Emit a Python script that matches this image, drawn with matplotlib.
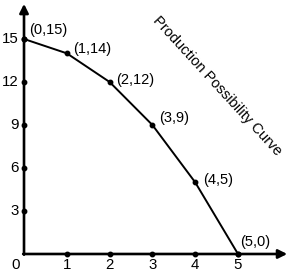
import matplotlib
matplotlib.use("Agg")
import matplotlib.pyplot as plt

# production possibility schedule
good_x = [0, 1, 2, 3, 4, 5]
good_y = [15, 14, 12, 9, 5, 0]
point_labels = ["(0,15)", "(1,14)", "(2,12)", "(3,9)", "(4,5)", "(5,0)"]
x_ticks = [1, 2, 3, 4, 5]
y_ticks = [3, 6, 9, 12, 15]
curve_name = "Production Possibility Curve"

plt.rcParams["font.family"] = ["Liberation Sans", "DejaVu Sans"]

fig = plt.figure(figsize=(2.98, 2.78), dpi=100)
ax = fig.add_axes([0, 0, 1, 1])
ax.set_xlim(-0.561, 6.402)
ax.set_ylim(-1.675, 17.72)
ax.axis("off")

# axes with arrow heads
ax.annotate("", xy=(0, 17.45), xytext=(0, -0.05),
            arrowprops=dict(arrowstyle="-|>", lw=1.9, color="k", mutation_scale=13, shrinkA=0, shrinkB=0))
ax.annotate("", xy=(6.15, 0), xytext=(-0.02, 0),
            arrowprops=dict(arrowstyle="-|>", lw=1.9, color="k", mutation_scale=13, shrinkA=0, shrinkB=0))

# tick dots + labels
ax.plot(x_ticks, [0] * len(x_ticks), "o", color="k", ms=3.2)
ax.plot([0] * len(y_ticks), y_ticks, "o", color="k", ms=3.2)
for t in x_ticks:
    ax.text(t, -0.8, str(t), ha="center", va="center", fontsize=10.8)
for t in y_ticks:
    ax.text(-0.12, t, str(t), ha="right", va="center", fontsize=10.8)
ax.text(-0.1, -0.8, "0", ha="right", va="center", fontsize=10.8)

# the curve
ax.plot(good_x, good_y, "-", color="k", lw=1.4)
ax.plot(good_x, good_y, "o", color="k", ms=3.2)

offsets = [(5, 9), (6, 4), (7, 2), (7, 7), (8, 2), (2, 12)]
for x, y, lab, (dx, dy) in zip(good_x, good_y, point_labels, offsets):
    ax.annotate(lab, (x, y), xytext=(dx * 0.72, dy * 0.72), textcoords="offset points",
                ha="left", va="center", fontsize=10.5)

ax.text(4.52, 11.75, curve_name, rotation=-47.5, rotation_mode="anchor",
        ha="center", va="center", fontsize=10.5)

fig.savefig("out.png", dpi=100)
